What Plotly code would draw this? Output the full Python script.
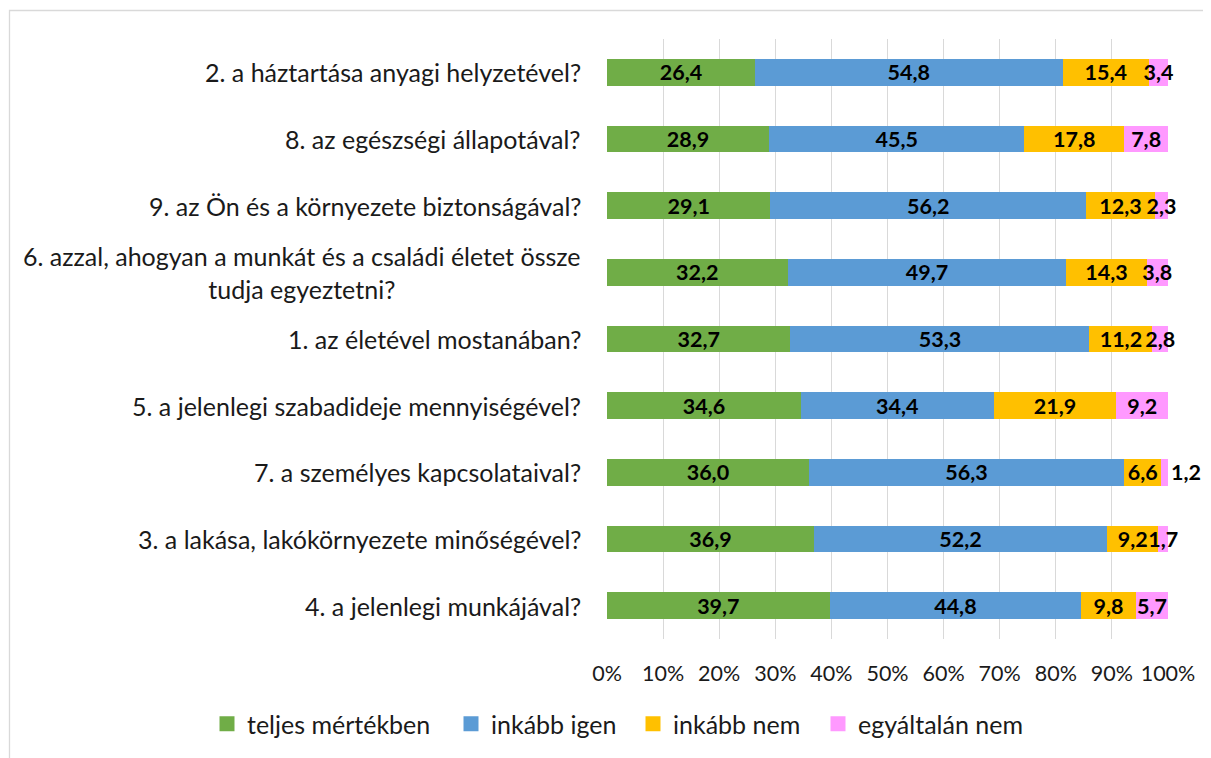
import plotly.graph_objects as go

categories = [
    "2. a háztartása anyagi helyzetével?",
    "8. az egészségi állapotával?",
    "9. az Ön és a környezete biztonságával?",
    "6. azzal, ahogyan a munkát és a családi életet össze<br>tudja egyeztetni?",
    "1. az életével mostanában?",
    "5. a jelenlegi szabadideje mennyiségével?",
    "7. a személyes kapcsolataival?",
    "3. a lakása, lakókörnyezete minőségével?",
    "4. a jelenlegi munkájával?",
]
teljes = [26.4, 28.9, 29.1, 32.2, 32.7, 34.6, 36.0, 36.9, 39.7]
inkabb_igen = [54.8, 45.5, 56.2, 49.7, 53.3, 34.4, 56.3, 52.2, 44.8]
inkabb_nem = [15.4, 17.8, 12.3, 14.3, 11.2, 21.9, 6.6, 9.2, 9.8]
egyaltalan = [3.4, 7.8, 2.3, 3.8, 2.8, 9.2, 1.2, 1.7, 5.7]
series_names = ["teljes mértékben", "inkább igen", "inkább nem", "egyáltalán nem"]
colors = ["#70AD47", "#5B9BD5", "#FFC000", "#FF99FF"]
tick_vals = [0, 10, 20, 30, 40, 50, 60, 70, 80, 90, 100]
tick_text = [f"{v}%" for v in tick_vals]

FONT = "Lato"
FS_CAT = 25
FS_LBL = 21.5
FS_TICK = 21.5
FS_LEG = 25
TXT = "#1a1a1a"

# page has an 8px body margin: figure sits at (8, 8)
W, H = 1203, 750
L, R, T, B = 599, 43, 31, 119
PW, PH = W - L - R, H - T - B


def px_x(x):
    return (x - 8 - L) / PW


def px_y(y):
    return (T + PH - (y - 8)) / PH


# window x where each legend entry's text starts
legend_text_x = [244, 488, 670, 855]

fig = go.Figure()
for name, vals, col in zip(series_names, [teljes, inkabb_igen, inkabb_nem, egyaltalan], colors):
    fig.add_trace(go.Bar(
        y=categories, x=vals, name=name, orientation="h",
        marker=dict(color=col, line=dict(width=0)),
        text=[f"{v:.1f}".replace(".", ",") for v in vals],
        textposition=["outside" if v < 1.5 else "inside" for v in vals],
        insidetextanchor="middle", textangle=0,
        textfont=dict(family=FONT, size=FS_LBL, color="black", weight="bold"),
        cliponaxis=False, width=0.4, showlegend=False,
    ))

legend_layout = {}
for i, (name, col) in enumerate(zip(series_names, colors)):
    key = "legend" if i == 0 else f"legend{i + 1}"
    fig.add_trace(go.Scatter(
        x=[None], y=[None], mode="markers", name=name,
        marker=dict(symbol="square", size=15, color=col),
        showlegend=True, legend=key, hoverinfo="skip",
    ))
    legend_layout[key] = dict(
        orientation="h", x=px_x(legend_text_x[i] - 37), xanchor="left",
        y=px_y(724), yanchor="middle", bgcolor="rgba(0,0,0,0)",
        font=dict(family=FONT, size=FS_LEG, color=TXT),
    )

for c in categories:
    fig.add_annotation(
        x=px_x(583), xref="paper", y=c, yref="y", text=c, showarrow=False,
        xanchor="right", yanchor="middle", align="center",
        font=dict(family=FONT, size=FS_CAT, color=TXT),
    )

fig.add_shape(type="rect", xref="paper", yref="paper",
              x0=px_x(9.5), x1=px_x(1240),
              y0=px_y(790), y1=px_y(10.5),
              line=dict(color="#D9D9D9", width=1.3), layer="below")

fig.update_layout(
    width=W, height=H,
    margin=dict(l=L, r=R, t=T, b=B, autoexpand=False),
    barmode="stack", barnorm="percent",
    paper_bgcolor="white", plot_bgcolor="white",
    separators=", ",
    uniformtext=dict(minsize=FS_LBL, mode="show"),
    font=dict(family=FONT, size=FS_CAT, color=TXT),
    showlegend=True,
    xaxis=dict(range=[0, 100], tickvals=tick_vals, ticktext=tick_text, showgrid=True,
               gridcolor="#D9D9D9", gridwidth=1.3, zeroline=False, showline=False,
               ticks="", ticklabelstandoff=19,
               tickfont=dict(family=FONT, size=FS_TICK, color=TXT)),
    yaxis=dict(autorange="reversed", showticklabels=False, showgrid=False,
               zeroline=False, showline=False, ticks=""),
    **legend_layout,
)

fig.write_html("out.html")
